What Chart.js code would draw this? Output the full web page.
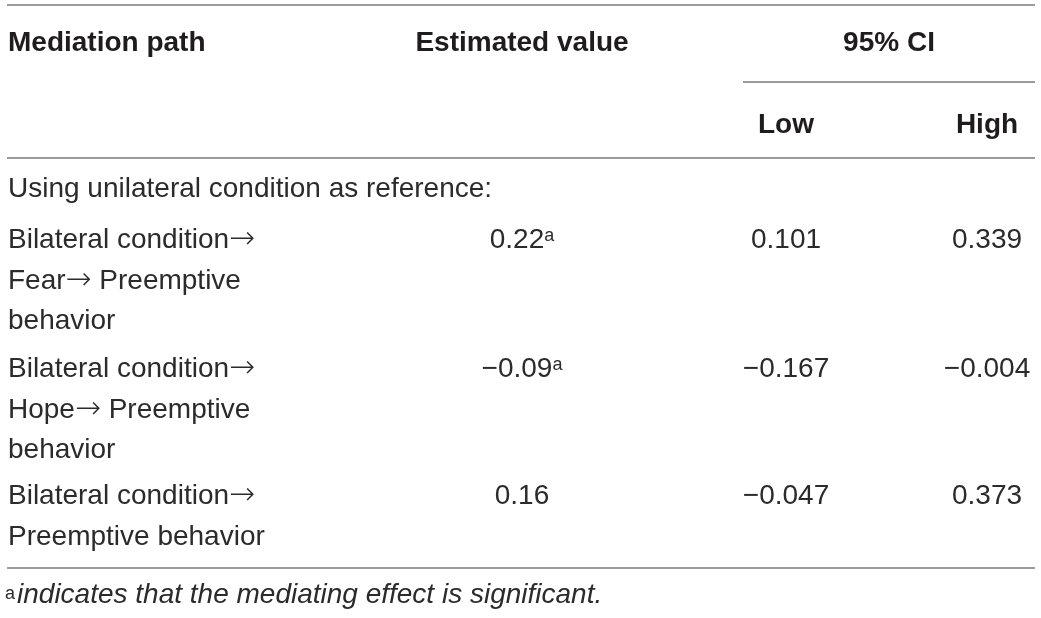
<!DOCTYPE html>
<html>
<head>
<meta charset="utf-8">
<script src="https://cdn.jsdelivr.net/npm/chart.js@4"></script>
<style>
  html, body { margin: 0; padding: 0; background: #fff; }
  #wrap { width: 1041px; height: 618px; }
</style>
</head>
<body>
<div id="wrap"><canvas id="tableChart"></canvas></div>
<script>
// table content
const headers = ['Mediation path', 'Estimated value', '95% CI'];
const ciHeaders = ['Low', 'High'];
const groupLabel = 'Using unilateral condition as reference:';
const paths = [
    ['Bilateral condition\u2192', 'Fear\u2192 Preemptive', 'behavior'],
    ['Bilateral condition\u2192', 'Hope\u2192 Preemptive', 'behavior'],
    ['Bilateral condition\u2192', 'Preemptive behavior']
];
const estimates = [0.22, -0.09, 0.16];
const significant = [true, true, false];
const ciLow = [0.101, -0.167, -0.047];
const ciHigh = [0.339, -0.004, 0.373];
const footMark = 'a';
const footnote = 'indicates that the mediating effect is significant.';

// layout (pixel units of the 1041x618 page)
const colX = [8, 522, 786, 987];
const ciSpan = [743, 1035];
const ruleSpan = [7, 1035];
const headY = 51, subHeadY = 133, groupY = 197, footY = 603;
const rowY = [248, 377, 504];
const lineGap = 40.5;
const rulesY = [5, 158, 568];

const FONT = '"Liberation Sans", Arial, Helvetica, sans-serif';
const ARROW_FONT = '200 31px "DejaVu Sans ExtraLight", "DejaVu Sans", sans-serif';
const TEXT = '#2b2b2b';
const HEAD = '#1f1c1d';
const RULE = '#7a7a7a';

function fmt(v, d) {
    return (v < 0 ? '\u2212' : '') + Math.abs(v).toFixed(d);
}

const cells = [];
cells.push({ x: colX[0], y: headY, text: headers[0], align: 'left', bold: true });
cells.push({ x: colX[1], y: headY, text: headers[1], align: 'center', bold: true });
cells.push({ x: (ciSpan[0] + ciSpan[1]) / 2, y: headY, text: headers[2], align: 'center', bold: true });
cells.push({ x: colX[2], y: subHeadY, text: ciHeaders[0], align: 'center', bold: true });
cells.push({ x: colX[3], y: subHeadY, text: ciHeaders[1], align: 'center', bold: true });
cells.push({ x: colX[0], y: groupY, text: groupLabel, align: 'left' });
paths.forEach((lines, i) => {
    lines.forEach((t, k) => {
        cells.push({ x: colX[0], y: rowY[i] + k * lineGap, text: t, align: 'left' });
    });
    cells.push({ x: colX[1], y: rowY[i], text: fmt(estimates[i], 2), sup: significant[i] ? footMark : '', align: 'center' });
    cells.push({ x: colX[2], y: rowY[i], text: fmt(ciLow[i], 3), align: 'center' });
    cells.push({ x: colX[3], y: rowY[i], text: fmt(ciHigh[i], 3), align: 'center' });
});
cells.push({ x: colX[0] - 3, y: footY, text: footnote, pre: footMark, align: 'left', italic: true });

const ruleSets = rulesY.map(y => ({
    type: 'line',
    data: [{ x: ruleSpan[0], y: y }, { x: ruleSpan[1], y: y }],
    borderColor: RULE,
    borderWidth: 1.5,
    pointRadius: 0
}));
ruleSets.push({
    type: 'line',
    data: [{ x: ciSpan[0], y: 82 }, { x: ciSpan[1], y: 82 }],
    borderColor: RULE,
    borderWidth: 1.5,
    pointRadius: 0
});

// split text so the arrows can use a font with a full size arrow glyph
function runs(text, font) {
    return text.split(/(\u2192)/).filter(s => s).map(s => ({ s, font: s === '\u2192' ? ARROW_FONT : font }));
}

const cellText = {
    id: 'cellText',
    afterDatasetsDraw(chart) {
        const ctx = chart.ctx;
        const meta = chart.getDatasetMeta(0);
        ctx.save();
        ctx.textBaseline = 'alphabetic';
        ctx.textAlign = 'left';
        meta.data.forEach((el, i) => {
            const c = chart.data.datasets[0].data[i];
            const main = (c.italic ? 'italic ' : '') + (c.bold ? 'bold ' : '') + '28px ' + FONT;
            const small = '18px ' + FONT;
            ctx.fillStyle = c.bold ? HEAD : TEXT;
            const parts = runs(c.text, main);
            let w = 0;
            parts.forEach(p => { ctx.font = p.font; p.w = ctx.measureText(p.s).width; w += p.w; });
            ctx.font = small;
            const supW = c.sup ? ctx.measureText(c.sup).width : 0;
            const preW = c.pre ? ctx.measureText(c.pre).width + 2 : 0;
            const total = w + supW + preW;
            let x = c.align === 'center' ? el.x - total / 2 : el.x;
            if (c.pre) {
                ctx.font = small;
                ctx.fillText(c.pre, x, el.y - 4);
                x += preW;
            }
            parts.forEach(p => {
                ctx.font = p.font;
                ctx.fillText(p.s, x, el.y);
                x += p.w;
            });
            if (c.sup) {
                ctx.font = small;
                ctx.fillText(c.sup, x, el.y - 7);
            }
        });
        ctx.restore();
    }
};

const chart = new Chart(document.getElementById('tableChart').getContext('2d'), {
    type: 'scatter',
    data: {
        datasets: [
            { type: 'scatter', data: cells, pointRadius: 0, pointHoverRadius: 0 },
            ...ruleSets
        ]
    },
    options: {
        responsive: true,
        maintainAspectRatio: false,
        animation: false,
        layout: { padding: 0 },
        plugins: { legend: { display: false }, tooltip: { enabled: false } },
        events: [],
        scales: {
            x: { type: 'linear', min: 0, max: 1041, display: false },
            y: { type: 'linear', min: 0, max: 618, reverse: true, display: false }
        }
    },
    plugins: [cellText]
});
</script>
</body>
</html>
